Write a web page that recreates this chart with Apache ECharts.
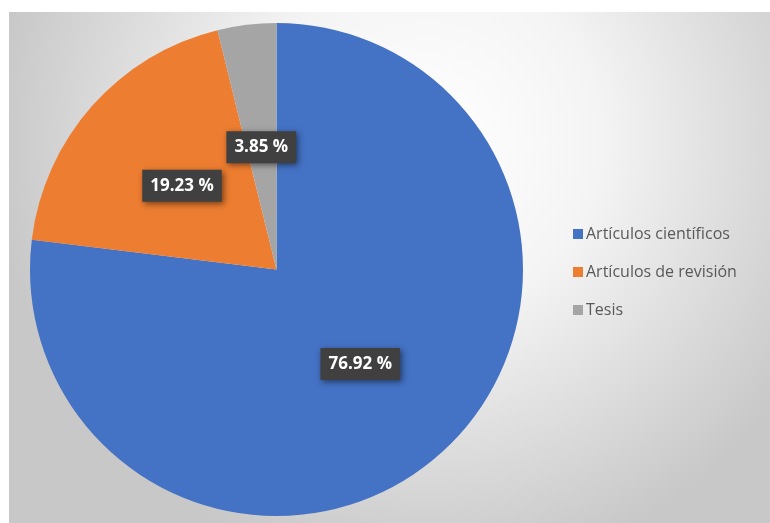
<!DOCTYPE html>
<html>
<head>
<meta charset="utf-8">
<script src="https://cdn.jsdelivr.net/npm/echarts@6/dist/echarts.min.js"></script>
<style>
html,body{margin:0;padding:0;background:#fff;}
#chart{position:absolute;left:9px;top:12px;width:761px;height:511px;}
</style>
</head>
<body>
<div id="chart"></div>
<script>
const categories = ['Artículos científicos', 'Artículos de revisión', 'Tesis'];
const values = [76.92, 19.23, 3.85];
const colors = ['#4472C4', '#ED7D31', '#A5A5A5'];

const chart = echarts.init(document.getElementById('chart'), null, {renderer: 'canvas'});
const data = categories.map((c, i) => {
  const d = {name: c, value: values[i], itemStyle: {color: colors[i]}};
  if (i === 2) d.label = {offset: [0, 3]};
  return d;
});
chart.setOption({
  backgroundColor: {
    type: 'radial', x: 0.55, y: 0.25, r: 0.85,
    colorStops: [
      {offset: 0, color: '#ffffff'},
      {offset: 0.4, color: '#f4f4f4'},
      {offset: 1, color: '#c8c8c8'}
    ]
  },
  animation: false,
  legend: {
    orient: 'vertical',
    left: 559,
    top: 209,
    itemWidth: 10,
    itemHeight: 10,
    itemGap: 22,
    icon: 'rect',
    textStyle: {color: '#595959', fontSize: 16, fontFamily: 'Open Sans', padding: [0, 0, 0, -2]},
    data: categories
  },
  series: [{
    type: 'pie',
    center: [267.5, 257.5],
    radius: [0, 246.5],
    startAngle: 90,
    clockwise: true,
    data: data,
    label: {
      show: true,
      position: 'inside',
      formatter: p => p.value.toFixed(2) + ' %',
      color: '#ffffff',
      fontWeight: 'bold',
      fontSize: 17,
      fontFamily: 'Open Sans',
      backgroundColor: '#404040',
      padding: [8, 8, 7, 8],
      shadowColor: 'rgba(0,0,0,0.5)',
      shadowBlur: 6,
      shadowOffsetX: 2,
      shadowOffsetY: 2
    },
    labelLine: {show: false},
    emphasis: {disabled: true}
  }]
});
</script>
</body>
</html>
